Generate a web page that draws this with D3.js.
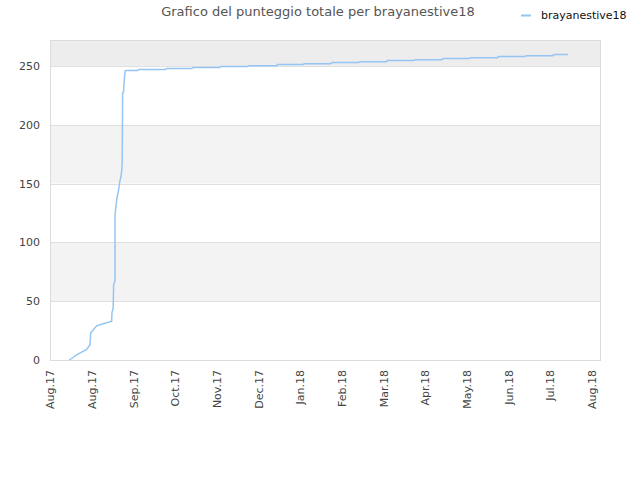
<!DOCTYPE html>
<html>
<head>
<meta charset="utf-8">
<script src="https://cdn.jsdelivr.net/npm/d3@7"></script>
<style>
  body { margin: 0; background: #fff; }
  svg { font-family: "DejaVu Sans", sans-serif; }
</style>
</head>
<body>
<svg width="640" height="480"></svg>
<script>

let seriesName = 'brayanestive18';

let dates = [
  '2017-08-14T22:00', '2017-08-21T02:00', '2017-08-27T10:00', '2017-08-29T19:00',
  '2017-08-30T07:00', '2017-09-03T14:00', '2017-09-06T00:00', '2017-09-14T10:00',
  '2017-09-14T14:00', '2017-09-15T12:00', '2017-09-15T19:00', '2017-09-16T19:00',
  '2017-09-16T20:00', '2017-09-17T07:00', '2017-09-18T10:00', '2017-09-19T15:00',
  '2017-09-20T10:00', '2017-09-21T02:00', '2017-09-21T19:00', '2017-09-22T00:00',
  '2017-09-22T07:00', '2017-09-23T00:00', '2017-09-23T05:00', '2017-09-24T00:00',
  '2017-09-24T05:00',
  '2017-10-03', '2017-10-04', '2017-10-23', '2017-10-24', '2017-11-11', '2017-11-12',
  '2017-12-01', '2017-12-02', '2017-12-21', '2017-12-22', '2018-01-11', '2018-01-12',
  '2018-01-30', '2018-01-31', '2018-02-19', '2018-02-20', '2018-03-11', '2018-03-12',
  '2018-03-31', '2018-04-01', '2018-04-20', '2018-04-21', '2018-05-10', '2018-05-11',
  '2018-05-30', '2018-05-31', '2018-06-19', '2018-06-20', '2018-07-09', '2018-07-10',
  '2018-07-29', '2018-07-30', '2018-08-09'
];

let scores = [
  0, 5, 9, 13,
  23, 29, 30, 33,
  40, 44, 64, 67,
  123, 129, 139, 146,
  153, 155, 163, 170,
  227, 228, 234, 245,
  246,
  246, 246.9, 246.9, 247.7, 247.7, 248.6,
  248.6, 249.4, 249.4, 250.2, 250.2, 251.1,
  251.1, 251.9, 251.9, 252.8, 252.8, 253.6,
  253.6, 254.5, 254.5, 255.3, 255.3, 256.2,
  256.2, 257.0, 257.0, 257.9, 257.9, 258.7,
  258.7, 259.6, 259.6
];

let tickDates = [
  '2017-08-01', '2017-08-31', '2017-09-30', '2017-10-30', '2017-11-29', '2017-12-29',
  '2018-01-28', '2018-02-27', '2018-03-29', '2018-04-28', '2018-05-28', '2018-06-27',
  '2018-07-27', '2018-08-26'
];

let tickLabels = [
  'Aug.17', 'Aug.17', 'Sep.17', 'Oct.17', 'Nov.17', 'Dec.17',
  'Jan.18', 'Feb.18', 'Mar.18', 'Apr.18', 'May.18', 'Jun.18',
  'Jul.18', 'Aug.18'
];

let yTicks = [0, 50, 100, 150, 200, 250];

let parseTime = d3.isoParse;

let data = dates.map(function(d, i) {
  return { date: parseTime(d), score: scores[i] };
});

let svg = d3.select('svg');

let plotLeft = 50, plotRight = 600, plotTop = 40, plotBottom = 360;

let xScale = d3.scaleTime()
               .domain([parseTime('2017-08-01'), parseTime('2018-09-01')])
               .range([plotLeft, plotRight]);

let yScale = d3.scaleLinear()
               .domain([0, 272])
               .range([plotBottom, plotTop]);

// shaded bands
let bands = [[50, 100], [150, 200], [250, 272]];
svg.append('g')
   .selectAll('rect')
   .data(bands)
   .enter()
   .append('rect')
   .attr('x', plotLeft)
   .attr('width', plotRight - plotLeft)
   .attr('y', function(d) { return yScale(d[1]); })
   .attr('height', function(d) { return yScale(d[0]) - yScale(d[1]); })
   .attr('fill', function(d) { return d[1] == 272 ? '#ededed' : '#f3f3f3'; });

// horizontal grid
svg.append('g')
   .selectAll('line')
   .data(yTicks)
   .enter()
   .append('line')
   .attr('x1', plotLeft)
   .attr('x2', plotRight)
   .attr('y1', function(d) { return Math.round(yScale(d)) + 0.5; })
   .attr('y2', function(d) { return Math.round(yScale(d)) + 0.5; })
   .attr('stroke', '#e0e0e0');

// plot frame
svg.append('rect')
   .attr('x', plotLeft + 0.5)
   .attr('y', plotTop + 0.5)
   .attr('width', plotRight - plotLeft)
   .attr('height', plotBottom - plotTop)
   .attr('fill', 'none')
   .attr('stroke', '#dcdcdc');

let yAxis = d3.axisLeft(yScale)
              .tickValues(yTicks)
              .tickSize(0)
              .tickPadding(10);

let yAxisG = svg.append('g')
                .attr('id', 'yAxisG')
                .attr('transform', 'translate(' + plotLeft + ',0)')
                .call(yAxis);

yAxisG.select('.domain').remove();
yAxisG.selectAll('text')
      .attr('font-size', 11)
      .attr('font-family', '"DejaVu Sans", sans-serif')
      .attr('fill', '#444');

let xAxis = d3.axisBottom(xScale)
              .tickValues(tickDates.map(parseTime))
              .tickFormat(function(d, i) { return tickLabels[i]; })
              .tickSize(0);

let xAxisG = svg.append('g')
                .attr('id', 'xAxisG')
                .attr('transform', 'translate(0,' + plotBottom + ')')
                .call(xAxis);

xAxisG.select('.domain').remove();
xAxisG.selectAll('text')
      .attr('font-size', 11)
      .attr('font-family', '"DejaVu Sans", sans-serif')
      .attr('fill', '#444')
      .attr('text-anchor', 'end')
      .attr('transform', 'translate(0,10) rotate(-90)')
      .attr('x', 0)
      .attr('y', 0)
      .attr('dy', '0.35em');

// score line
let scoreLine = d3.line()
                  .x(function(d) { return xScale(d.date); })
                  .y(function(d) { return yScale(d.score); });

svg.append('path')
   .attr('d', scoreLine(data))
   .attr('fill', 'none')
   .attr('stroke', '#94c5f4')
   .attr('stroke-width', 1.5);

// title
svg.append('text')
   .attr('x', 318)
   .attr('y', 16)
   .attr('text-anchor', 'middle')
   .attr('font-size', 13)
   .attr('fill', '#555')
   .text('Grafico del punteggio totale per ' + seriesName);

// legend
svg.append('line')
   .attr('x1', 521)
   .attr('x2', 531)
   .attr('y1', 15.5)
   .attr('y2', 15.5)
   .attr('stroke', '#94c5f4')
   .attr('stroke-width', 2);

svg.append('text')
   .attr('x', 541)
   .attr('y', 19)
   .attr('font-size', 11)
   .attr('fill', '#111')
   .text(seriesName);

</script>
</body>
</html>
